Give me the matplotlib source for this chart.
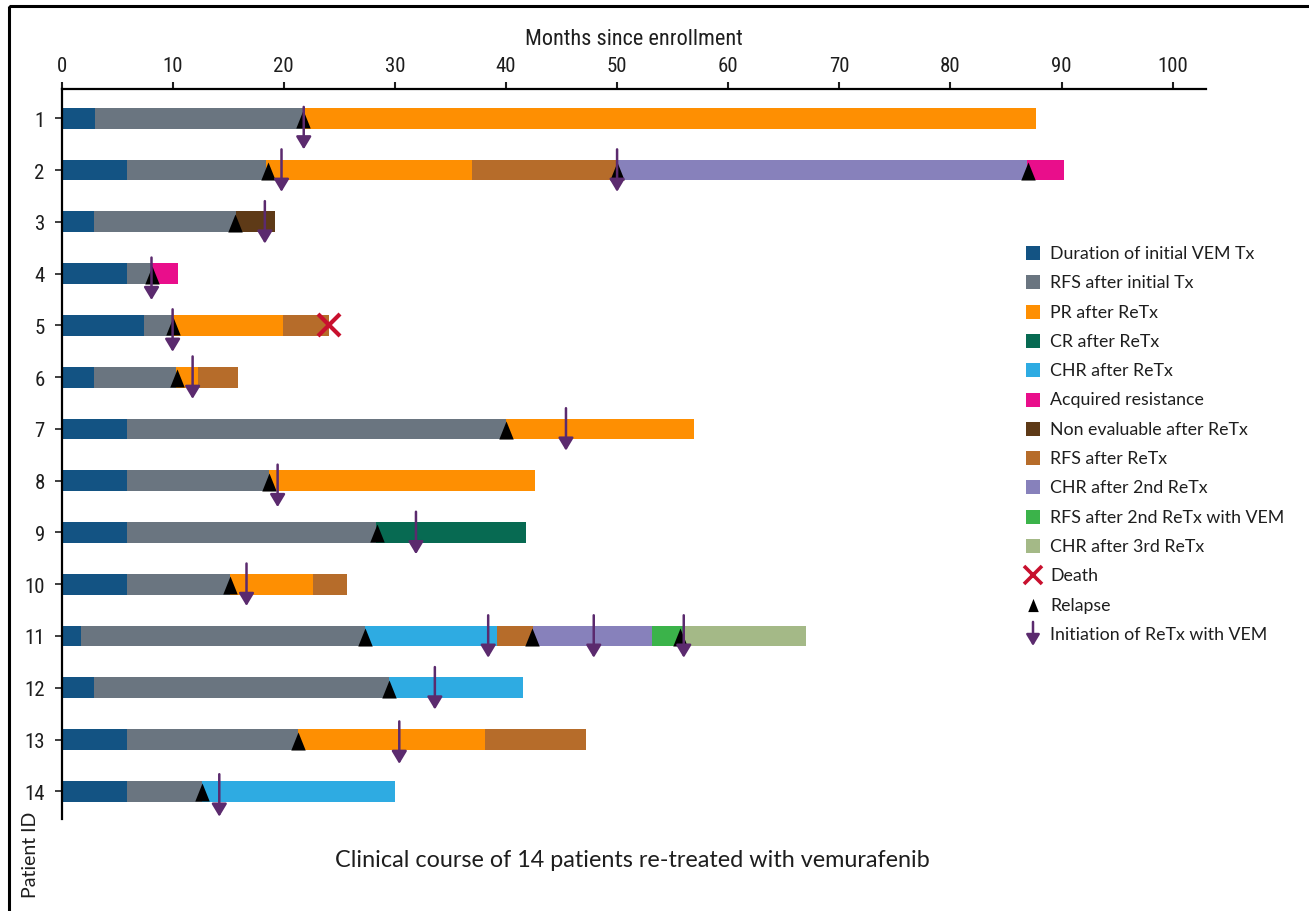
import matplotlib
matplotlib.use("Agg")
import matplotlib.pyplot as plt
from matplotlib.path import Path
from matplotlib.patches import Rectangle
from matplotlib import font_manager

# ---------------- data ----------------
patient_ids = list(range(1, 15))

category_names = [
    "Duration of initial VEM Tx",
    "RFS after initial Tx",
    "PR after ReTx",
    "CR after ReTx",
    "CHR after ReTx",
    "Acquired resistance",
    "Non evaluable after ReTx",
    "RFS after ReTx",
    "CHR after 2nd ReTx",
    "RFS after 2nd ReTx with VEM",
    "CHR after 3rd ReTx",
]
category_colors = [
    "#135383", "#6a7580", "#fe8f02", "#076a52", "#2eabe2", "#e90e8b",
    "#5e3a17", "#b66c2a", "#8781bb", "#3bb34a", "#a4b987",
]

# category index of each consecutive segment, per patient
segment_categories = [
    [0, 1, 2],
    [0, 1, 2, 7, 8, 5],
    [0, 1, 6],
    [0, 1, 5],
    [0, 1, 2, 7],
    [0, 1, 2, 7],
    [0, 1, 2],
    [0, 1, 2],
    [0, 1, 3],
    [0, 1, 2, 7],
    [0, 1, 4, 7, 8, 9, 10],
    [0, 1, 4],
    [0, 1, 2, 7],
    [0, 1, 4],
]
# end month of each segment, per patient (segments start where the previous ends)
segment_ends = [
    [3.0, 21.7, 87.7],
    [5.9, 18.4, 36.9, 50.0, 86.9, 90.2],
    [2.9, 15.7, 19.2],
    [5.9, 8.1, 10.5],
    [7.4, 10.0, 19.9, 24.1],
    [2.9, 10.3, 12.3, 15.9],
    [5.9, 40.0, 56.9],
    [5.9, 18.65, 42.65],
    [5.9, 28.3, 41.8],
    [5.9, 15.2, 22.6, 25.65],
    [1.75, 27.3, 39.2, 42.4, 53.1, 56.1, 67.0],
    [2.9, 29.5, 41.5],
    [5.9, 21.3, 38.1, 47.2],
    [5.9, 12.6, 30.0],
]

relapse_patients = [1, 2, 2, 2, 3, 4, 5, 6, 7, 8, 9, 10, 11, 11, 11, 12, 13, 14]
relapse_months = [21.7, 18.6, 50.0, 87.0, 15.6, 8.1, 10.0, 10.4, 40.0, 18.7,
                  28.35, 15.2, 27.3, 42.35, 55.7, 29.5, 21.3, 12.6]

retx_patients = [1, 2, 2, 3, 4, 5, 6, 7, 8, 9, 10, 11, 11, 11, 12, 13, 14]
retx_months = [21.8, 19.8, 50.0, 18.3, 8.1, 10.0, 11.8, 45.4, 19.45, 31.9,
               16.65, 38.4, 47.9, 56.0, 33.6, 30.4, 14.2]

death_patients = [5]
death_months = [24.1]

x_ticks = [0, 10, 20, 30, 40, 50, 60, 70, 80, 90, 100]

# ---------------- style ----------------
# small vertical offset of each ReTx arrow (style only)
retx_arrow_shift = [0.18, 0, 0, 0, 0.09, 0.09, 0, 0, 0.09, 0, 0, 0, 0, 0, 0, 0.05, 0.07]
ARROW_COLOR = "#5b2a6e"
DEATH_COLOR = "#c8102e"
TEXT_COLOR = "#1e1e1e"

avail = {f.name for f in font_manager.fontManager.ttflist}
COND = next((n for n in ["Liberation Sans Narrow", "Roboto Condensed",
                         "Open Sans Condensed", "DejaVu Sans Condensed"] if n in avail), "Lato")
REG = "Lato" if "Lato" in avail else "DejaVu Sans"

W, H = 1309, 912
fig = plt.figure(figsize=(W / 100, H / 100), dpi=100)

# main axes (pixel-based placement)
ax_left, ax_right, ax_top, ax_bottom = 61.5, 1206, 90, 820
ax = fig.add_axes([ax_left / W, (H - ax_bottom) / H,
                   (ax_right - ax_left) / W, (ax_bottom - ax_top) / H])

BAR_H = 0.4
for pid, cats, ends in zip(patient_ids, segment_categories, segment_ends):
    start = 0.0
    for c, e in zip(cats, ends):
        ax.barh(pid, e - start, left=start, height=BAR_H,
                color=category_colors[c], edgecolor="none", zorder=2)
        start = e

tri = Path([(-0.4, -0.5), (0.4, -0.5), (0.0, 0.5), (-0.4, -0.5)],
           [Path.MOVETO, Path.LINETO, Path.LINETO, Path.CLOSEPOLY])
ax.plot(relapse_months, [p + 0.02 for p in relapse_patients], linestyle="none",
        marker=tri, markersize=13, color="black", markeredgewidth=0, zorder=3)

for p, m, s in zip(retx_patients, retx_months, retx_arrow_shift):
    ax.annotate("", xy=(m, p + 0.42 + s), xytext=(m, p - 0.40 + s),
                arrowprops=dict(arrowstyle="-|>,head_length=0.4,head_width=0.24",
                                color=ARROW_COLOR, lw=1.8, mutation_scale=19,
                                shrinkA=0, shrinkB=0),
                zorder=4)

ax.plot(death_months, death_patients, linestyle="none", marker="x",
        markersize=16, markeredgewidth=3, color=DEATH_COLOR, zorder=5)

ax.set_xlim(0, 103)
ax.set_ylim(14.535, 0.434)
ax.xaxis.tick_top()
ax.xaxis.set_label_position("top")
ax.set_xticks(x_ticks)
ax.set_yticks(patient_ids)
ax.set_yticklabels([str(p) for p in patient_ids])
ax.tick_params(axis="x", direction="out", length=5, width=1.5, pad=5,
               labelsize=15, colors=TEXT_COLOR)
ax.tick_params(axis="y", direction="out", length=5, width=1.2, pad=7,
               labelsize=15, colors=TEXT_COLOR)
for lab in ax.get_xticklabels() + ax.get_yticklabels():
    lab.set_fontfamily(COND)
ax.set_xlabel("Months since enrollment", fontsize=16, family=COND,
              color=TEXT_COLOR, labelpad=9)
for side in ["right", "bottom"]:
    ax.spines[side].set_visible(False)
ax.spines["top"].set_linewidth(1.6)
ax.spines["left"].set_linewidth(1.6)
ax.set_facecolor("none")

# overlay in pixel coordinates for frame, legend and captions
ov = fig.add_axes([0, 0, 1, 1], zorder=10)
ov.set_xlim(0, W)
ov.set_ylim(H, 0)
ov.axis("off")
ov.patch.set_visible(False)

ov.add_patch(Rectangle((9, 7), 1500, 1100, fill=False, lw=2.2,
                       edgecolor="black", clip_on=False))

ov.text(632, 861, "Clinical course of 14 patients re-treated with vemurafenib",
        ha="center", va="center", fontsize=16.8, family=REG, color=TEXT_COLOR)
ov.text(30, 855, "Patient ID", rotation=90, ha="center", va="center",
        fontsize=14, family=REG, color=TEXT_COLOR)

# legend
leg_x, leg_y0, leg_dy = 1033, 254, 29.3
entries = len(category_names) + 3
for i in range(entries):
    y = leg_y0 + i * leg_dy
    if i < len(category_names):
        ov.plot([leg_x], [y], marker="s", markersize=10, color=category_colors[i],
                markeredgewidth=0, linestyle="none")
        label = category_names[i]
    elif i == len(category_names):
        ov.plot([leg_x], [y], marker="x", markersize=13, markeredgewidth=2.6,
                color=DEATH_COLOR, linestyle="none")
        label = "Death"
    elif i == len(category_names) + 1:
        ov.plot([leg_x], [y], marker=tri, markersize=9.5, color="black",
                markeredgewidth=0, linestyle="none")
        label = "Relapse"
    else:
        ov.annotate("", xy=(leg_x, y + 12), xytext=(leg_x, y - 12),
                    arrowprops=dict(arrowstyle="-|>,head_length=0.4,head_width=0.24",
                                    color=ARROW_COLOR, lw=1.8, mutation_scale=17,
                                    shrinkA=0, shrinkB=0))
        label = "Initiation of ReTx with VEM"
    ov.text(1050, y, label, ha="left", va="center", fontsize=12.8, family=REG,
            color=TEXT_COLOR)

fig.savefig("out.png", dpi=100)
